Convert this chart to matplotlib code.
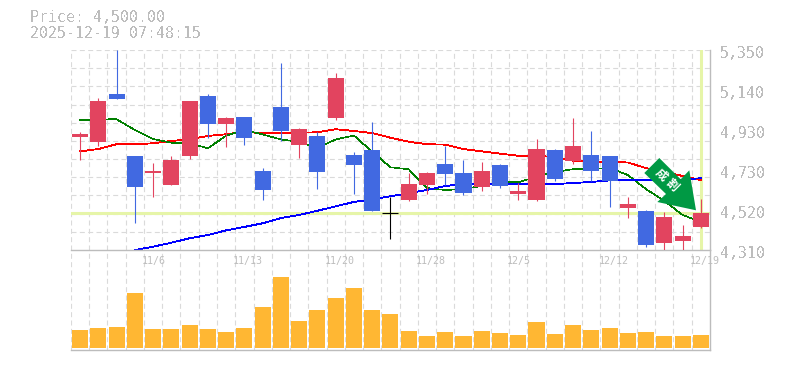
import matplotlib
matplotlib.use('Agg')
import matplotlib.pyplot as plt
from matplotlib.patches import Polygon
import numpy as np

W, H = 785, 370

# candle values in yen
opens = [4899, 4872, 5121, 4799, 4710, 4650, 4799, 5111, 4965, 5002, 4721, 5054,
         4856, 4903, 4996, 4804, 4830, 4502, 4570, 4648, 4757, 4710, 4638, 4752,
         4601, 4570, 4830, 4773, 4804, 4799, 4528, 4513, 4346, 4357, 4430]
closes = [4913, 5085, 5097, 4639, 4722, 4778, 5085, 4965, 4996, 4894, 4622, 4929,
          4939, 4716, 5204, 4752, 4513, 4502, 4653, 4710, 4705, 4606, 4721, 4643,
          4617, 4835, 4679, 4851, 4721, 4669, 4549, 4336, 4482, 4383, 4502]
highs = [4924, 5100, 5350, 4799, 4764, 4799, 5085, 5121, 5002, 5002, 4736, 5282,
         4944, 4924, 5230, 4820, 4976, 4587, 4710, 4716, 4851, 4778, 4768, 4757,
         4658, 4887, 4835, 4996, 4929, 4799, 4586, 4518, 4508, 4440, 4575]
lows = [4778, 4852, 5097, 4452, 4587, 4650, 4783, 4891, 4847, 4856, 4570, 4875,
        4788, 4629, 4986, 4601, 4511, 4369, 4565, 4601, 4648, 4596, 4617, 4632,
        4570, 4565, 4669, 4757, 4669, 4534, 4476, 4326, 4305, 4310, 4424]

ma_red = [4823, 4835, 4860, 4860, 4865, 4877, 4886, 4903, 4912, 4924, 4918, 4920,
          4920, 4922, 4938, 4929, 4918, 4894, 4873, 4860, 4858, 4835, 4823, 4811,
          4800, 4799, 4794, 4774, 4770, 4768, 4765, 4736, 4716, 4695, 4674]
ma_green = [4986, 4989, 4990, 4934, 4887, 4868, 4865, 4839, 4904, 4934, 4911, 4885,
            4872, 4840, 4885, 4905, 4821, 4740, 4730, 4632, 4622, 4627, 4643, 4665,
            4662, 4691, 4716, 4730, 4733, 4736, 4700, 4626, 4566, 4492, 4456]
ma_blue = [np.nan, np.nan, np.nan, 4310, 4327, 4348, 4371, 4388, 4412, 4430, 4449,
           4476, 4492, 4514, 4537, 4560, 4574, 4589, 4606, 4622, 4643, 4652, 4652,
           4653, 4653, 4653, 4653, 4658, 4664, 4672, 4672, 4672, 4674, 4677, 4683]

volumes = [18, 20, 21, 55, 19, 19, 23, 19, 16, 20, 41, 71, 27, 38, 50, 60, 38, 34,
           17, 12, 16, 12, 17, 15, 13, 26, 14, 23, 18, 20, 15, 16, 12, 12, 13]

date_pos = [4, 9, 14, 19, 24, 29, 34]
date_labels = ['11/6', '11/13', '11/20', '11/28', '12/5', '12/12', '12/19']
price_labels = ['5,350', '5,140', '4,930', '4,730', '4,520', '4,310']
last_price = 4500

RED = '#e2445f'
BLUE = '#4169e1'
TEXT = '#bdbdbd'
GRID = '#dadada'
FONT = 'DejaVu Sans Mono'
DASH = (0, (4.5, 3))


def px_axes(fig, left, top, right, bottom):
    return fig.add_axes([left / W, 1 - bottom / H, (right - left) / W, (bottom - top) / H])


def draw_grid(ax):
    ax.set_xlim(-0.5, 34.5)
    for x in np.arange(-0.5, 34.5):
        ax.axvline(x, color=GRID, lw=0.8, ls=DASH, zorder=0)
    ax.set_xticks([])
    ax.set_yticks([])
    ax.patch.set_alpha(0)
    for s in ['left', 'top']:
        ax.spines[s].set_visible(False)
    for s in ['right', 'bottom']:
        ax.spines[s].set_color('#bcbcbc')
        ax.spines[s].set_linewidth(1.0)


def draw_candles(ax):
    idx = np.arange(len(opens))
    colors = []
    for o, c in zip(opens, closes):
        if c > o:
            colors.append(RED)
        elif c < o:
            colors.append(BLUE)
        else:
            colors.append('black')
    ax.vlines(idx, lows, highs, colors=colors, lw=0.8, zorder=3)
    ax.bar(idx, np.array(closes) - np.array(opens), bottom=opens, width=0.88,
           color=colors, zorder=4)
    ax.hlines(closes[17], 16.56, 17.44, colors='black', lw=0.8, zorder=4)


fig = plt.figure(figsize=(W / 100, H / 100), dpi=100, facecolor='white')

ax = px_axes(fig, 70.9, 50, 710, 250)
draw_grid(ax)
ax.set_ylim(4310, 5350)
for y in np.linspace(4310, 5350, 12)[1:]:
    ax.axhline(y, color=GRID, lw=0.8, ls=DASH, zorder=0)
ax.axhline(last_price, color='#e6f5a8', lw=2.2, zorder=1)
ax.axvline(34, color='#e6f5a8', lw=2.2, ymin=0.01, zorder=1)
ax.plot(ma_red, color='#ff0000', lw=0.6, zorder=2, antialiased=False)
ax.plot(ma_green, color='#007f00', lw=0.45, zorder=2, antialiased=False)
ax.plot(ma_blue, color='#0000ff', lw=0.6, zorder=2, antialiased=False)
draw_candles(ax)

ax_vol = px_axes(fig, 70.9, 250, 710, 350)
draw_grid(ax_vol)
ax_vol.set_ylim(-2, 98)
ax_vol.bar(range(len(volumes)), volumes, width=0.88, color='#ffb733', zorder=3)

# full-figure overlay in pixel coords for the arrow badge and labels
overlay = fig.add_axes([0, 0, 1, 1])
overlay.set_xlim(0, W)
overlay.set_ylim(H, 0)
overlay.axis('off')
overlay.add_patch(Polygon([(659.3, 158), (644.3, 173), (666, 194), (657.3, 202),
                           (696, 210.3), (689.3, 170.3), (680.7, 179.3)],
                          closed=True, color='#009944', lw=0, zorder=6))
overlay.text(660.7, 175.3, '成', color='white', fontsize=8.5, fontweight='bold', rotation=-45,
             ha='center', va='center', family='Noto Sans CJK JP', zorder=7)
overlay.text(671.7, 185.3, '割', color='white', fontsize=8.5, fontweight='bold', rotation=-45,
             ha='center', va='center', family='Noto Sans CJK JP', zorder=7)

overlay.text(30, 18, 'Price: 4,500.00', color=TEXT, fontsize=10.7, family=FONT, va='center',
             antialiased=False)
overlay.text(30, 33, '2025-12-19 07:48:15', color=TEXT, fontsize=10.7, family=FONT, va='center',
             antialiased=False)
for i, lab in enumerate(price_labels):
    overlay.text(720, 53 + 40 * i, lab, color=TEXT, fontsize=10.7, family=FONT, va='center',
                 antialiased=False)
for pos, lab in zip(date_pos, date_labels):
    x = 70.9 + pos * (710 - 70.9) / 35
    overlay.text(x - 2, 261, lab, color=TEXT, fontsize=7.2, family=FONT, va='center')

fig.savefig('out.png', dpi=100)
